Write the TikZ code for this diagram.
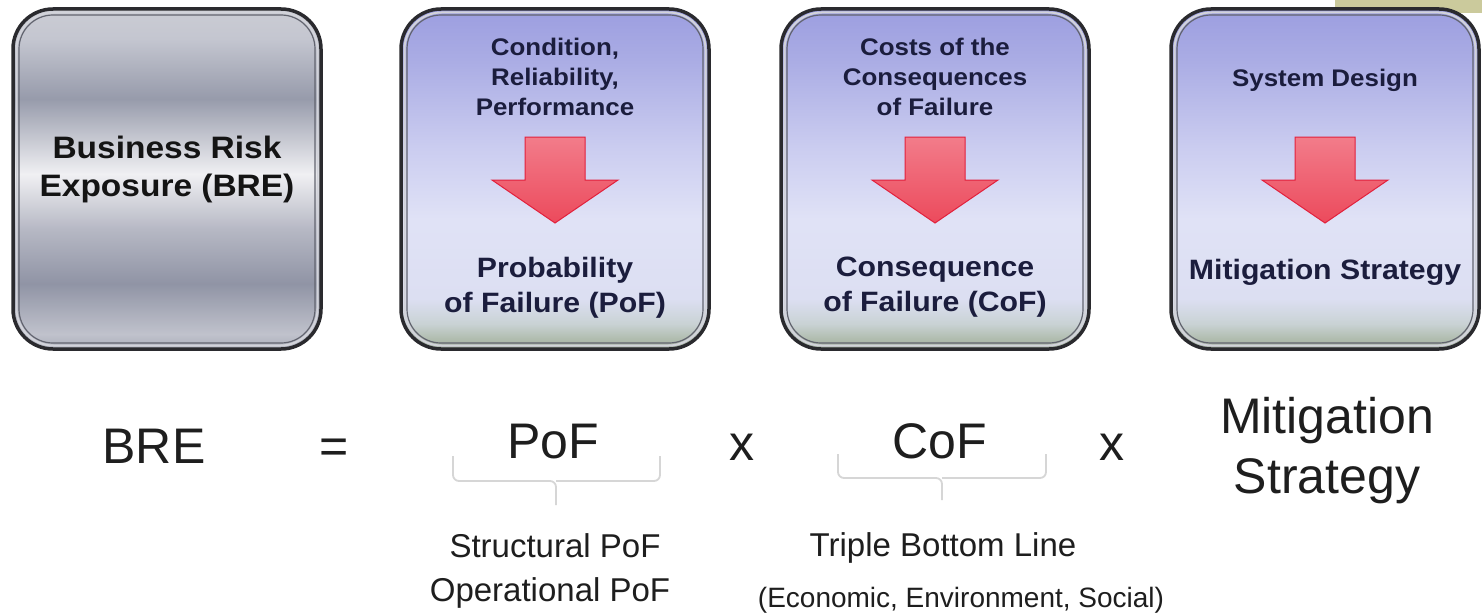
\documentclass[tikz,border=0pt]{standalone}
\usepackage{fontspec}
\setmainfont{Liberation Sans}
\newfontfamily\boxsans[FakeStretch=1.08]{Liberation Sans}
\usepackage{xcolor}
\usepackage{tikz}
\usetikzlibrary{positioning}

\definecolor{rimdark}{HTML}{2A2A2E}
\definecolor{rimgrey}{HTML}{D2D3DA}
\definecolor{rimmid}{HTML}{62646F}
\definecolor{navytext}{HTML}{1B1D3D}
\definecolor{eqblack}{HTML}{1E1E1E}
\definecolor{bracegrey}{HTML}{D6D6D6}
\definecolor{khaki}{HTML}{CBCA9C}
\definecolor{arrowlight}{HTML}{F27C8A}
\definecolor{arrowred}{HTML}{EC4A5C}
\definecolor{arrowedge}{HTML}{E2203C}
% silver stops, bottom to top
\definecolor{silvA}{HTML}{ABAEBA}
\definecolor{silvB}{HTML}{C0C2CC}
\definecolor{silvC}{HTML}{9094A5}
\definecolor{silvD}{HTML}{B6B8C4}
\definecolor{silvE}{HTML}{F0F0F3}
\definecolor{silvF}{HTML}{979BAB}
\definecolor{silvG}{HTML}{C4C6D0}
\definecolor{silvH}{HTML}{CBCCD4}
% lavender stops, bottom to top
\definecolor{bluA}{HTML}{A3B0A2}
\definecolor{bluB}{HTML}{B0BCAE}
\definecolor{bluC}{HTML}{C9D2D4}
\definecolor{bluD}{HTML}{DCDFF2}
\definecolor{bluE}{HTML}{E0E2F6}
\definecolor{bluF}{HTML}{CBCDF0}
\definecolor{bluG}{HTML}{AAACE4}
\definecolor{bluH}{HTML}{9C9EE0}

\pgfdeclareverticalshading{silvershade}{100bp}{color(0bp)=(silvA); color(25bp)=(silvA); color(27.2bp)=(silvB); color(34.6bp)=(silvC); color(42.6bp)=(silvD); color(50.7bp)=(silvE); color(61.8bp)=(silvF); color(70.6bp)=(silvG); color(75bp)=(silvH); color(100bp)=(silvH)}
\pgfdeclareverticalshading{blueshade}{100bp}{color(0bp)=(bluA); color(25bp)=(bluA); color(26.5bp)=(bluB); color(28.7bp)=(bluC); color(32.4bp)=(bluD); color(44.1bp)=(bluE); color(54.4bp)=(bluF); color(67.6bp)=(bluG); color(75bp)=(bluH); color(100bp)=(bluH)}

\begin{document}
\begin{tikzpicture}[x=1pt, y=-1pt,
    box/.style={shade, draw=rimdark, line width=3.5pt, rounded corners=40pt,
        minimum width=308pt, minimum height=340pt, inner sep=0pt, outer sep=0pt},
    silverbox/.style={box, shading=silvershade},
    bluebox/.style={box, shading=blueshade},
    rimlight/.style={draw=rimgrey, line width=2pt, rounded corners=37pt},
    rimline/.style={draw=rimmid, line width=1.2pt, rounded corners=34pt},
    redarrow/.style={draw=arrowedge, line width=1pt, top color=arrowlight, bottom color=arrowred},
    headtext/.style={align=center, inner sep=0pt, text=navytext, font=\boxsans\bfseries\fontsize{24}{30}\selectfont},
    resulttext/.style={align=center, inner sep=0pt, text=navytext, font=\boxsans\bfseries\fontsize{28}{35}\selectfont},
    eqtext/.style={inner sep=0pt, anchor=base, text=eqblack, font=\fontsize{50}{60}\selectfont},
    subtext/.style={inner sep=0pt, anchor=base, text=eqblack, font=\fontsize{33}{40}\selectfont},
    bracket/.style={draw=bracegrey, line width=1.8pt, rounded corners=6pt}
]
    \useasboundingbox (0,0) rectangle (1482,615);
    \fill[white] (0,0) rectangle (1482,615);
    \fill[khaki] (1335,0) rectangle (1482,13); % tab peeking out behind the last box

    % the four boxes
    \node[silverbox] (bre) at (167,179) {}; % BRE box
    \node[bluebox, right=80pt of bre] (pof) {}; % PoF box
    \node[bluebox, right=72pt of pof] (cof) {}; % CoF box
    \node[bluebox, right=82pt of cof] (mit) {}; % mitigation box
    \foreach \b in {bre,pof,cof,mit} {
        \draw[rimlight] ([shift={(3.5,3.5)}]\b.north west) rectangle ([shift={(-3.5,-3.5)}]\b.south east);
        \draw[rimline] ([shift={(6,6)}]\b.north west) rectangle ([shift={(-6,-6)}]\b.south east);
    }

    % box texts
    \node[align=center, inner sep=0pt, text=black!92, font=\boxsans\bfseries\fontsize{31}{38}\selectfont,
        below=127pt of bre.north] (bretitle) {Business Risk\\Exposure (BRE)};
    \node[headtext, below=29pt of pof.north] (pofcause) {Condition,\\Reliability,\\Performance};
    \node[resulttext, below=248pt of pof.north] (pofresult) {Probability\\of Failure (PoF)};
    \node[headtext, below=29pt of cof.north] (cofcause) {Costs of the\\Consequences\\of Failure};
    \node[resulttext, below=248pt of cof.north] (cofresult) {Consequence\\of Failure (CoF)};
    \node[headtext, below=60pt of mit.north] (mitcause) {System Design};
    \node[resulttext, below=250pt of mit.north] (mitresult) {Mitigation Strategy};

    % red block arrows, tip at the box centre line
    \draw[redarrow] ([shift={(-30,128)}]pof.north) -- ++(60,0) -- ++(0,43) -- ++(33,0) -- ++(-63,43) -- ++(-63,-43) -- ++(33,0) -- cycle;
    \draw[redarrow] ([shift={(-30,128)}]cof.north) -- ++(60,0) -- ++(0,43) -- ++(33,0) -- ++(-63,43) -- ++(-63,-43) -- ++(33,0) -- cycle;
    \draw[redarrow] ([shift={(-30,128)}]mit.north) -- ++(60,0) -- ++(0,43) -- ++(33,0) -- ++(-63,43) -- ++(-63,-43) -- ++(33,0) -- cycle;

    % the equation
    \node[eqtext] (breeq) at (154,463) {BRE};
    \node[eqtext] (equals) at (334,463) {=};
    \node[eqtext] (pofeq) at (553,458) {PoF};
    \node[eqtext] (times1) at (742,460) {x};
    \node[eqtext] (cofeq) at (940,458) {CoF};
    \node[eqtext] (times2) at (1112,460) {x};
    \node[eqtext, anchor=north, align=center] (miteq) at (1327,397) {Mitigation\\Strategy};

    % braces under PoF and CoF
    \draw[bracket] (453,456) |- (556,481) -- (556,505);
    \draw[bracket] (660,456) |- (556,481);
    \draw[bracket] (838,454) |- (942,478) -- (942,500);
    \draw[bracket] (1046,454) |- (942,478);

    % what each factor is made of
    \node[subtext] (structpof) at (555,557) {Structural PoF};
    \node[subtext] (operpof) at (550,601) {Operational PoF};
    \node[subtext] (tbl) at (943,556) {Triple Bottom Line};
    \node[subtext, font=\fontsize{28}{34}\selectfont] (tblparts) at (961,607) {(Economic, Environment, Social)};
\end{tikzpicture}
\end{document}
